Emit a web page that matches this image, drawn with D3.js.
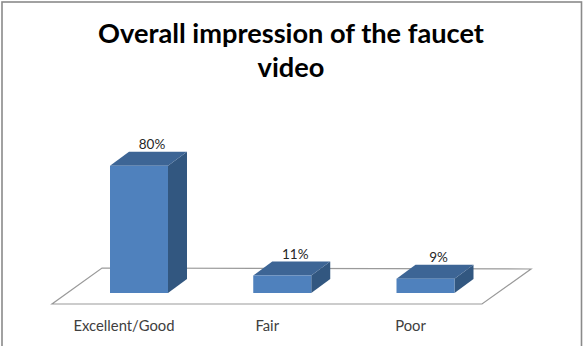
<!DOCTYPE html>
<html>
<head>
<meta charset="utf-8">
<script src="https://cdn.jsdelivr.net/npm/d3@7"></script>
<style>
  html, body { margin: 0; padding: 0; background: #fff; }
  svg { display: block; }
</style>
</head>
<body>
<svg id="chart" width="584" height="346"></svg>
<script>
// Survey results
const categories = ["Excellent/Good", "Fair", "Poor"];
const values = [80, 11, 9];
const valueLabels = ["80%", "11%", "9%"];
const titleLines = ["Overall impression of the faucet", "video"];

const svg = d3.select("#chart");
const W = 584, H = 346;
const FONT = "Lato, 'Liberation Sans', sans-serif";

// Outer frame
svg.append("rect")
  .attr("x", 2).attr("y", 2).attr("width", 579.5).attr("height", 360)
  .attr("fill", "#fff").attr("stroke", "#8a8a8a").attr("stroke-width", 1.6);

// Fit a text element to a target width by adjusting font size
function fitWidth(sel, target) {
  const node = sel.node();
  const fs = parseFloat(sel.attr("font-size"));
  const w = node.getComputedTextLength();
  if (w > 0) sel.attr("font-size", (fs * target / w).toFixed(2));
}

// Title
const title = svg.append("g").attr("font-family", FONT).attr("font-weight", "bold")
  .attr("fill", "#000").attr("text-anchor", "middle");
const t1 = title.append("text").attr("x", 291).attr("y", 43).attr("font-size", 24).text(titleLines[0]);
fitWidth(t1, 386);
const fsTitle = t1.attr("font-size");
title.append("text").attr("x", 291).attr("y", 77).attr("font-size", fsTitle).text(titleLines[1]);

// Scales
const baseY = 293;               // bottom of bar front faces
const x = d3.scalePoint().domain(categories).range([139, 425.5]);
const y = d3.scaleLinear().domain([0, 100]).range([baseY, baseY - 159]);
const barW = 58;
const depth = { dx: 19, dy: -14 };

// Floor plane
const floorFront = 304, floorBack = 268;
const floorPts = [
  [x(categories[0]) - 87, floorFront],
  [x(categories[2]) + 56.5, floorFront],
  [x(categories[2]) + 105.5, floorBack + 1],
  [x(categories[0]) - 37, floorBack]
];
svg.append("polygon")
  .attr("points", floorPts.map(p => p.join(",")).join(" "))
  .attr("fill", "#fff").attr("stroke", "#9a9a9a").attr("stroke-width", 1.2);

// Bars (front, top, side faces)
const data = categories.map((c, i) => ({ c, v: values[i], label: valueLabels[i] }));
const bars = svg.append("g").selectAll("g").data(data).join("g");

bars.append("polygon")   // side
  .attr("points", d => {
    const x1 = x(d.c) + barW / 2, yt = y(d.v);
    return [[x1, yt], [x1 + depth.dx, yt + depth.dy], [x1 + depth.dx, baseY + depth.dy], [x1, baseY]]
      .map(p => p.join(",")).join(" ");
  })
  .attr("fill", "#325780");

bars.append("polygon")   // top
  .attr("points", d => {
    const x0 = x(d.c) - barW / 2, x1 = x(d.c) + barW / 2, yt = y(d.v);
    return [[x0, yt], [x1, yt], [x1 + depth.dx, yt + depth.dy], [x0 + depth.dx, yt + depth.dy]]
      .map(p => p.join(",")).join(" ");
  })
  .attr("fill", "#3d6595");

bars.append("rect")      // front
  .attr("x", d => x(d.c) - barW / 2)
  .attr("y", d => y(d.v))
  .attr("width", barW)
  .attr("height", d => baseY - y(d.v))
  .attr("fill", "#4f81bd");

// Value labels above each bar
bars.append("text")
  .attr("x", d => x(d.c) + 13)
  .attr("y", d => y(d.v) + depth.dy - 3)
  .attr("text-anchor", "middle")
  .attr("font-family", FONT)
  .attr("font-size", 13.5)
  .attr("fill", "#262626")
  .text(d => d.label);

// Category labels
const catG = svg.append("g").attr("font-family", FONT).attr("fill", "#404040").attr("text-anchor", "middle");
const catTexts = catG.selectAll("text").data(categories).join("text")
  .attr("x", d => x(d) - 15)
  .attr("y", 331)
  .attr("font-size", 14)
  .text(d => d);
fitWidth(catTexts.filter((d, i) => i === 0), 101);
const fsCat = catTexts.filter((d, i) => i === 0).attr("font-size");
catTexts.attr("font-size", fsCat);
</script>
</body>
</html>
